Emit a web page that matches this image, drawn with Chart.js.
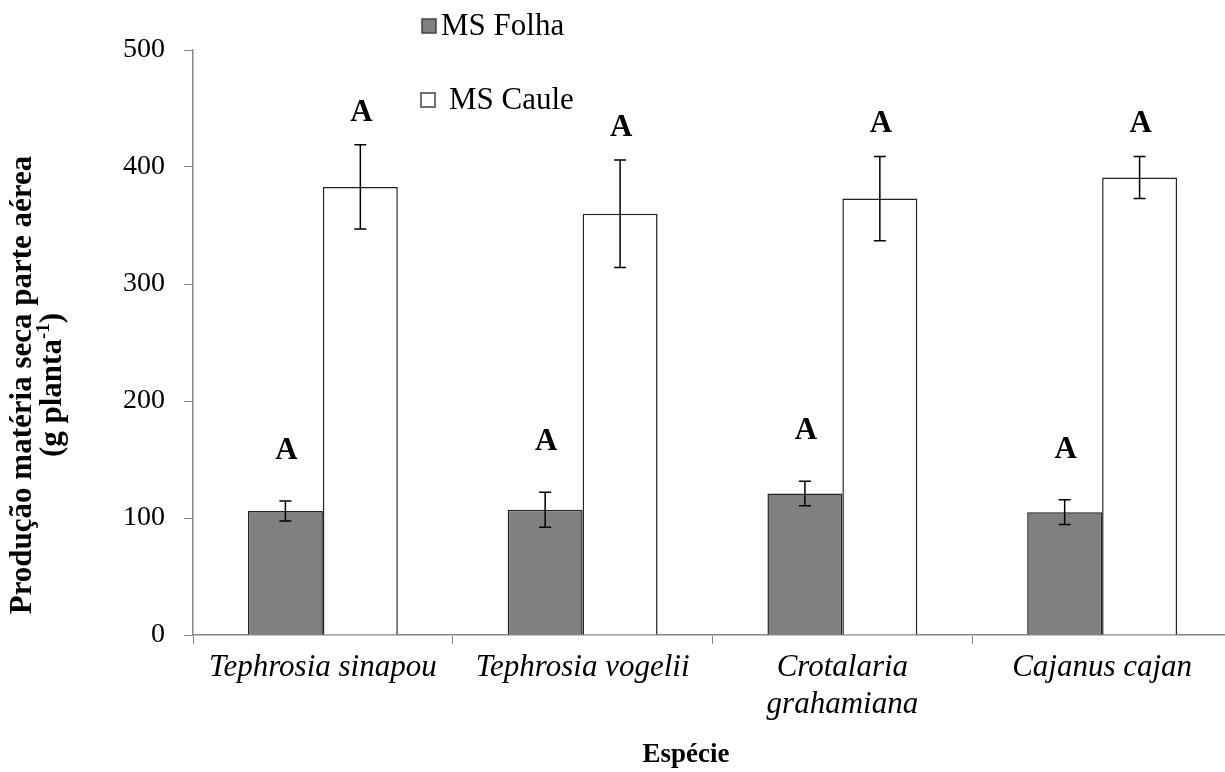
<!DOCTYPE html>
<html>
<head>
<meta charset="utf-8">
<script src="https://cdn.jsdelivr.net/npm/chart.js@4/dist/chart.umd.min.js"></script>
<style>
  html, body { margin: 0; padding: 0; background: #fff; overflow: hidden; }
  #wrap { width: 1232px; height: 772px; }
</style>
</head>
<body>
<div id="wrap"><canvas id="myChart"></canvas></div>
<script>
// data
const species = ['Tephrosia sinapou', 'Tephrosia vogelii', ['Crotalaria', 'grahamiana'], 'Cajanus cajan'];
const folha = [106, 107, 121, 105];
const folhaErr = [8.5, 15, 10.5, 10.5];
const caule = [383, 360, 373, 391];
const cauleErr = [36, 46, 36, 18];
const folhaLetters = ['A', 'A', 'A', 'A'];
const cauleLetters = ['A', 'A', 'A', 'A'];
const yTicks = [0, 100, 200, 300, 400, 500];

const serif = "'Liberation Serif', 'Times New Roman', serif";

// error bars, significance letters, legend and axis titles
const extras = {
    id: 'extras',
    afterDatasetsDraw(chart) {
        const ctx = chart.ctx;
        const y = chart.scales.y;
        const errs = [folhaErr, cauleErr];
        const letters = [folhaLetters, cauleLetters];
        const letterGap = [50, 32];
        ctx.save();
        ctx.strokeStyle = '#000';
        ctx.lineWidth = 1.5;
        chart.data.datasets.forEach((ds, i) => {
            chart.getDatasetMeta(i).data.forEach((bar, j) => {
                const v = ds.data[j];
                const top = y.getPixelForValue(v + errs[i][j]);
                const bot = y.getPixelForValue(v - errs[i][j]);
                ctx.beginPath();
                ctx.moveTo(bar.x, top); ctx.lineTo(bar.x, bot);
                ctx.moveTo(bar.x - 6, top); ctx.lineTo(bar.x + 6, top);
                ctx.moveTo(bar.x - 6, bot); ctx.lineTo(bar.x + 6, bot);
                ctx.stroke();
                ctx.fillStyle = '#000';
                ctx.font = 'bold 31px ' + serif;
                ctx.textAlign = 'center';
                ctx.textBaseline = 'middle';
                ctx.fillText(letters[i][j], bar.x + 1, top - letterGap[i]);
            });
        });
        ctx.restore();
    },
    afterDraw(chart) {
        const ctx = chart.ctx;
        ctx.save();
        // legend
        const items = [[0, 422, 26, 441], [1, 421, 100, 449]];
        items.forEach(([i, sx, cy, tx]) => {
            const ds = chart.data.datasets[i];
            ctx.fillStyle = ds.backgroundColor;
            ctx.strokeStyle = '#444';
            ctx.lineWidth = 1.5;
            ctx.fillRect(sx, cy - 7, 14, 14);
            ctx.strokeRect(sx, cy - 7, 14, 14);
            ctx.fillStyle = '#000';
            ctx.font = '31px ' + serif;
            ctx.textAlign = 'left';
            ctx.textBaseline = 'middle';
            ctx.fillText(ds.label, tx, cy + 1);
        });
        // x title
        ctx.font = 'bold 27px ' + serif;
        ctx.textAlign = 'center';
        ctx.fillText('Espécie', 686, 755);
        // y title, rotated
        const big = 'bold 31px ' + serif, small = 'bold 19px ' + serif;
        ctx.translate(0, 385);
        ctx.rotate(-Math.PI / 2);
        ctx.font = big;
        ctx.fillText('Produção matéria seca parte aérea', 0, 23);
        const a = '(g planta', b = '-1', c = ')';
        const wa = ctx.measureText(a).width;
        const wc = ctx.measureText(c).width;
        ctx.font = small;
        const wb = ctx.measureText(b).width;
        let x0 = -(wa + wb + wc) / 2;
        ctx.textAlign = 'left';
        ctx.font = big;
        ctx.fillText(a, x0, 53);
        ctx.font = small;
        ctx.fillText(b, x0 + wa, 44);
        ctx.font = big;
        ctx.fillText(c, x0 + wa + wb, 53);
        ctx.restore();
    }
};

new Chart(document.getElementById('myChart').getContext('2d'), {
    type: 'bar',
    data: {
        labels: species,
        datasets: [{
            label: 'MS Folha',
            data: folha,
            backgroundColor: '#808080',
            borderColor: '#222',
            borderWidth: 1.5
        }, {
            label: 'MS Caule',
            data: caule,
            backgroundColor: '#ffffff',
            borderColor: '#222',
            borderWidth: 1.5
        }]
    },
    options: {
        responsive: true,
        maintainAspectRatio: false,
        animation: false,
        layout: { padding: { top: 50, right: 0, left: 0, bottom: 0 } },
        plugins: { legend: { display: false }, tooltip: { enabled: false } },
        datasets: { bar: { barPercentage: 1, categoryPercentage: 0.577 } },
        scales: {
            x: {
                grid: { display: true, drawOnChartArea: false, drawTicks: true, tickLength: 9, color: '#888', offset: true },
                border: { display: true, color: '#888', width: 1.5 },
                ticks: { color: '#000', padding: 5, maxRotation: 0, font: { family: serif, size: 31, style: 'italic', lineHeight: 1.2 } },
                afterFit: s => { s.height = 137; }
            },
            y: {
                min: 0,
                max: 500,
                afterBuildTicks: s => { s.ticks = yTicks.map(v => ({ value: v })); },
                grid: { display: true, drawOnChartArea: false, drawTicks: true, tickLength: 9, color: '#888' },
                border: { display: true, color: '#888', width: 1.5 },
                ticks: { color: '#000', padding: 19, font: { family: serif, size: 28 } },
                afterFit: s => { s.width = 193; }
            }
        }
    },
    plugins: [extras]
});
</script>
</body>
</html>
